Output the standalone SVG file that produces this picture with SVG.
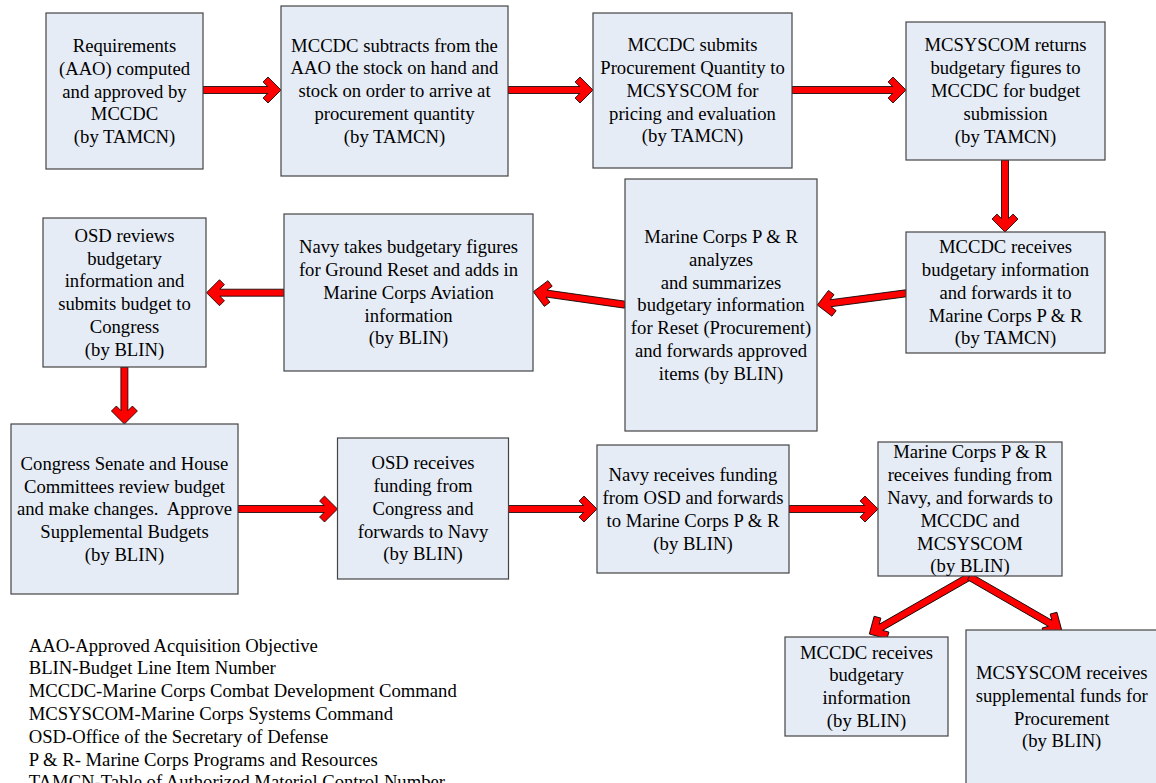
<svg xmlns="http://www.w3.org/2000/svg" width="1156" height="783" viewBox="0 0 1156 783">
<style>
.box{fill:#e6ecf6;stroke:#444;stroke-width:1.2}
text{font-family:"Liberation Serif","Times New Roman",serif;font-size:18.67px;fill:#000}
text.nt{text-anchor:middle}
.arr{fill:#ff0000;stroke:#000;stroke-width:0.8;stroke-linejoin:miter}
</style>
<rect width="1156" height="783" fill="#fff"/>

<g id="connectors">
<g transform="translate(281,90)"><polygon class="arr" points="0,0 -13,-13 -17.95,-8.05 -13.4,-3.5 -78,-3.5 -78,3.5 -13.4,3.5 -17.95,8.05 -13,13"/></g>
<g transform="translate(593,90)"><polygon class="arr" points="0,0 -13,-13 -17.95,-8.05 -13.4,-3.5 -85,-3.5 -85,3.5 -13.4,3.5 -17.95,8.05 -13,13"/></g>
<g transform="translate(906,90)"><polygon class="arr" points="0,0 -13,-13 -17.95,-8.05 -13.4,-3.5 -114,-3.5 -114,3.5 -13.4,3.5 -17.95,8.05 -13,13"/></g>
<g transform="translate(1005,232) rotate(90)"><polygon class="arr" points="0,0 -13,-13 -17.95,-8.05 -13.4,-3.5 -72,-3.5 -72,3.5 -13.4,3.5 -17.95,8.05 -13,13"/></g>
<g transform="translate(817.3,305) rotate(172.49)"><polygon class="arr" points="0,0 -13,-13 -17.95,-8.05 -13.4,-3.5 -89.5,-3.5 -89.5,3.5 -13.4,3.5 -17.95,8.05 -13,13"/></g>
<g transform="translate(533.3,291.7) rotate(188.07)"><polygon class="arr" points="0,0 -13,-13 -17.95,-8.05 -13.4,-3.5 -92.6,-3.5 -92.6,3.5 -13.4,3.5 -17.95,8.05 -13,13"/></g>
<g transform="translate(206.5,292.7) rotate(180)"><polygon class="arr" points="0,0 -13,-13 -17.95,-8.05 -13.4,-3.5 -77.5,-3.5 -77.5,3.5 -13.4,3.5 -17.95,8.05 -13,13"/></g>
<g transform="translate(124.4,424) rotate(90)"><polygon class="arr" points="0,0 -13,-13 -17.95,-8.05 -13.4,-3.5 -57,-3.5 -57,3.5 -13.4,3.5 -17.95,8.05 -13,13"/></g>
<g transform="translate(337.5,509)"><polygon class="arr" points="0,0 -13,-13 -17.95,-8.05 -13.4,-3.5 -99.5,-3.5 -99.5,3.5 -13.4,3.5 -17.95,8.05 -13,13"/></g>
<g transform="translate(597,509)"><polygon class="arr" points="0,0 -13,-13 -17.95,-8.05 -13.4,-3.5 -89,-3.5 -89,3.5 -13.4,3.5 -17.95,8.05 -13,13"/></g>
<g transform="translate(878,509)"><polygon class="arr" points="0,0 -13,-13 -17.95,-8.05 -13.4,-3.5 -89,-3.5 -89,3.5 -13.4,3.5 -17.95,8.05 -13,13"/></g>
<g transform="translate(869.3,634) rotate(150.2)"><polygon class="arr" points="0,0 -13,-13 -17.95,-8.05 -13.4,-3.5 -115.3,-3.5 -115.3,3.5 -13.4,3.5 -17.95,8.05 -13,13"/></g>
<g transform="translate(1061.7,630) rotate(29.98)"><polygon class="arr" points="0,0 -13,-13 -17.95,-8.05 -13.4,-3.5 -106.7,-3.5 -106.7,3.5 -13.4,3.5 -17.95,8.05 -13,13"/></g>
</g>

<g id="n1"><rect class="box" x="46" y="13" width="157" height="156"/>
<text class="nt"><tspan x="124.5" y="51.9">Requirements</tspan><tspan x="124.5" y="74.7">(AAO) computed</tspan><tspan x="124.5" y="97.5">and approved by</tspan><tspan x="124.5" y="120.3">MCCDC</tspan><tspan x="124.5" y="143.1">(by TAMCN)</tspan></text></g>

<g id="n2"><rect class="box" x="281" y="6" width="227" height="170"/>
<text class="nt"><tspan x="394.5" y="51.5">MCCDC subtracts from the</tspan><tspan x="394.5" y="74.3">AAO the stock on hand and</tspan><tspan x="394.5" y="97.1">stock on order to arrive at</tspan><tspan x="394.5" y="119.9">procurement quantity</tspan><tspan x="394.5" y="142.7">(by TAMCN)</tspan></text></g>

<g id="n3"><rect class="box" x="593" y="13" width="199" height="155"/>
<text class="nt"><tspan x="692.5" y="51.2">MCCDC submits</tspan><tspan x="692.5" y="74">Procurement Quantity to</tspan><tspan x="692.5" y="96.8">MCSYSCOM for</tspan><tspan x="692.5" y="119.6">pricing and evaluation</tspan><tspan x="692.5" y="142.4">(by TAMCN)</tspan></text></g>

<g id="n4"><rect class="box" x="906" y="22" width="199" height="138"/>
<text class="nt"><tspan x="1005.5" y="51.3">MCSYSCOM returns</tspan><tspan x="1005.5" y="74.1">budgetary figures to</tspan><tspan x="1005.5" y="96.9">MCCDC for budget</tspan><tspan x="1005.5" y="119.7">submission</tspan><tspan x="1005.5" y="142.5">(by TAMCN)</tspan></text></g>

<g id="n5"><rect class="box" x="906" y="232" width="199" height="121"/>
<text class="nt"><tspan x="1005.5" y="253.2">MCCDC receives</tspan><tspan x="1005.5" y="276">budgetary information</tspan><tspan x="1005.5" y="298.8">and forwards it to</tspan><tspan x="1005.5" y="321.6">Marine Corps P &amp; R</tspan><tspan x="1005.5" y="344.4">(by TAMCN)</tspan></text></g>

<g id="n6"><rect class="box" x="625" y="179" width="192" height="252"/>
<text class="nt"><tspan x="721" y="242.9">Marine Corps P &amp; R</tspan><tspan x="721" y="265.7">analyzes</tspan><tspan x="721" y="288.5">and summarizes</tspan><tspan x="721" y="311.3">budgetary information</tspan><tspan x="721" y="334.1">for Reset (Procurement)</tspan><tspan x="721" y="356.9">and forwards approved</tspan><tspan x="721" y="379.7">items (by BLIN)</tspan></text></g>

<g id="n7"><rect class="box" x="284" y="214" width="249" height="157"/>
<text class="nt"><tspan x="408.5" y="253.2">Navy takes budgetary figures</tspan><tspan x="408.5" y="276">for Ground Reset and adds in</tspan><tspan x="408.5" y="298.8">Marine Corps Aviation</tspan><tspan x="408.5" y="321.6">information</tspan><tspan x="408.5" y="344.4">(by BLIN)</tspan></text></g>

<g id="n8"><rect class="box" x="43" y="218" width="163" height="149"/>
<text class="nt"><tspan x="124.5" y="241.8">OSD reviews</tspan><tspan x="124.5" y="264.6">budgetary</tspan><tspan x="124.5" y="287.4">information and</tspan><tspan x="124.5" y="310.2">submits budget to</tspan><tspan x="124.5" y="333">Congress</tspan><tspan x="124.5" y="355.8">(by BLIN)</tspan></text></g>

<g id="n9"><rect class="box" x="11" y="424" width="227" height="170"/>
<text class="nt" xml:space="preserve"><tspan x="124.5" y="469.7">Congress Senate and House</tspan><tspan x="124.5" y="492.5">Committees review budget</tspan><tspan x="124.5" y="515.3">and make changes.  Approve</tspan><tspan x="124.5" y="538.1">Supplemental Budgets</tspan><tspan x="124.5" y="560.9">(by BLIN)</tspan></text></g>

<g id="n10"><rect class="box" x="337.5" y="438" width="171" height="141"/>
<text class="nt"><tspan x="423" y="469.2">OSD receives</tspan><tspan x="423" y="492">funding from</tspan><tspan x="423" y="514.8">Congress and</tspan><tspan x="423" y="537.6">forwards to Navy</tspan><tspan x="423" y="560.4">(by BLIN)</tspan></text></g>

<g id="n11"><rect class="box" x="597" y="445" width="192" height="128"/>
<text class="nt"><tspan x="693" y="481.1">Navy receives funding</tspan><tspan x="693" y="503.9">from OSD and forwards</tspan><tspan x="693" y="526.7">to Marine Corps P &amp; R</tspan><tspan x="693" y="549.5">(by BLIN)</tspan></text></g>

<g id="n12"><rect class="box" x="878" y="442" width="184" height="134"/>
<text class="nt"><tspan x="970" y="458.3">Marine Corps P &amp; R</tspan><tspan x="970" y="481.1">receives funding from</tspan><tspan x="970" y="503.9">Navy, and forwards to</tspan><tspan x="970" y="526.7">MCCDC and</tspan><tspan x="970" y="549.5">MCSYSCOM</tspan><tspan x="970" y="572.3">(by BLIN)</tspan></text></g>

<g id="n13"><rect class="box" x="785" y="637" width="163" height="99"/>
<text class="nt"><tspan x="866.5" y="658.6">MCCDC receives</tspan><tspan x="866.5" y="681.4">budgetary</tspan><tspan x="866.5" y="704.2">information</tspan><tspan x="866.5" y="727">(by BLIN)</tspan></text></g>

<g id="n14"><rect class="box" x="966" y="630" width="192" height="156"/>
<text class="nt"><tspan x="1061.7" y="679">MCSYSCOM receives</tspan><tspan x="1061.7" y="701.8">supplemental funds for</tspan><tspan x="1061.7" y="724.6">Procurement</tspan><tspan x="1061.7" y="747.4">(by BLIN)</tspan></text></g>

<g id="legend"><text><tspan x="28.7" y="651.5">AAO-Approved Acquisition Objective</tspan><tspan x="28.7" y="674.3">BLIN-Budget Line Item Number</tspan><tspan x="28.7" y="697.1">MCCDC-Marine Corps Combat Development Command</tspan><tspan x="28.7" y="719.9">MCSYSCOM-Marine Corps Systems Command</tspan><tspan x="28.7" y="742.7">OSD-Office of the Secretary of Defense</tspan><tspan x="28.7" y="765.5">P &amp; R- Marine Corps Programs and Resources</tspan><tspan x="28.7" y="788.3">TAMCN-Table of Authorized Materiel Control Number</tspan></text></g>
</svg>
